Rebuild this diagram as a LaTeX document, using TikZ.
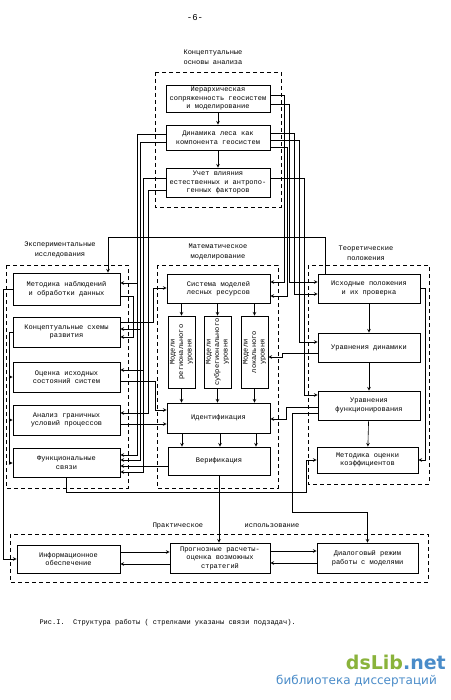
\documentclass[tikz,border=0pt]{standalone}
\usepackage{fontspec}
\newfontfamily\tw{Liberation Mono}
\newfontfamily\wm{DejaVu Sans}
\usetikzlibrary{arrows, calc}
\definecolor{wmgreen}{HTML}{8AB33B}
\definecolor{wmblue}{HTML}{4A8CC9}

\begin{document}
\begin{tikzpicture}[x=1pt, y=-1pt,
	block/.style={draw, line width=0.9pt, align=center, inner sep=1pt,
		minimum width=103pt, minimum height=29pt, font=\tw\fontsize{7}{8.5}\selectfont},
	vblock/.style={block, rotate=90, minimum width=72pt, minimum height=27pt},
	group/.style={line width=0.7pt, dash pattern=on 4pt off 3pt},
	lbl/.style={align=center, font=\tw\fontsize{7}{10}\selectfont},
	link/.style={line width=0.6pt, -stealth}]

\useasboundingbox[fill=white] (0,0) rectangle (450,700);

% frames of the groups
\draw[group] (155,72) rectangle (281,207);
\draw[group] (6,265) rectangle (128,488);
\draw[group] (157,265) rectangle (278,488);
\draw[group] (308,265) rectangle (429,484);
\draw[group] (10,534) rectangle (428,582);

\node[font=\tw\fontsize{9}{10}\selectfont] (pg) at (195,18) {-6-};
\node[lbl] (tconc) at (213,57) {Концептуальные\\основы анализа};
\node[lbl] (texp) at (60,250) {Экспериментальные\\исследования};
\node[lbl] (tmat) at (218,252) {Математическое\\моделирование};
\node[lbl] (tteor) at (366,253) {Теоретические\\положения};
\node[lbl] (tprak) at (178,526) {Практическое};
\node[lbl] (tisp) at (272,526) {использование};

% conceptual basis
\node[block, minimum width=104pt, minimum height=27pt] (T1) at (218,98.5) {Иерархическая\\сопряженность геосистем\\и моделирование};
\node[block, minimum width=104pt, minimum height=25pt] (T2) at (218,137.5) {Динамика леса как\\компонента геосистем};
\node[block, minimum width=104pt] (T3) at (218,182.5) {Учет влияния\\естественных и антропо-\\генных факторов};

% experiments
\node[block, minimum width=107pt, minimum height=32pt] (L1) at (66.5,289) {Методика наблюдений\\и обработки данных};
\node[block, minimum width=107pt, minimum height=30pt] (L2) at (66.5,332) {Концептуальные схемы\\развития};
\node[block, minimum width=107pt, minimum height=30pt] (L3) at (66.5,377) {Оценка исходных\\состояний систем};
\node[block, minimum width=107pt, minimum height=30pt] (L4) at (66.5,420) {Анализ граничных\\условий процессов};
\node[block, minimum width=107pt] (L5) at (66.5,462.5) {Функциональные\\связи};

% modelling
\node[block] (M1) at (218.5,288.5) {Система моделей\\лесных ресурсов};
\node[vblock] (V1) at (181.5,352) {Модели\\регионального\\уровня};
\node[vblock] (V2) at (217.5,352) {Модели\\субрегионального\\уровня};
\node[vblock] (V3) at (254.5,352) {Модели\\локального\\уровня};
\node[block, minimum height=30pt] (M2) at (218.5,418) {Идентификация};
\node[block, minimum width=102pt, minimum height=28pt] (M3) at (219,461) {Верификация};

% theory
\node[block, minimum width=102pt] (R1) at (369,288.5) {Исходные положения\\и их проверка};
\node[block, minimum width=102pt] (R2) at (369,347.5) {Уравнения динамики};
\node[block, minimum width=102pt] (R3) at (369,405.5) {Уравнения\\функционирования};
\node[block, minimum width=101pt, minimum height=26pt] (R4) at (367.5,460) {Методика оценки\\коэффициентов};

% practice
\node[block, minimum width=103pt, minimum height=28pt] (B1) at (68.5,559) {Информационное\\обеспечение};
\node[block, minimum width=100pt, minimum height=30pt] (B2) at (220,558) {Прогнозные расчеты-\\оценка возможных\\стратегий};
\node[block, minimum width=101pt, minimum height=30pt] (B3) at (367.5,558) {Диалоговый режим\\работы с моделями};

\node[anchor=west, font=\tw\fontsize{7}{8}\selectfont] (cap) at (36,623) {Рис.I.\ \ Структура работы ( стрелками указаны связи подзадач).};

\node[anchor=east, inner sep=0pt, font=\wm\bfseries\fontsize{19}{20}\selectfont] (wm1) at (446,662) {\textcolor{wmgreen}{dsLib}\textcolor{wmblue}{.net}};
\node[anchor=east, inner sep=0pt, text=wmblue, font=\wm\fontsize{12}{13}\selectfont] (wm2) at (437,681) {библиотека диссертаций};

% inside the groups
\draw[link] (T1) -- (T2);
\draw[link] (T2) -- (T3);
\foreach \v/\x in {V1/181.5, V2/217.5, V3/254.5} {
	\draw[link] (M1.south -| \x,0) -- (\v.east);
	\draw[link] (\v.west) -- (M2.north -| \x,0);
}
\foreach \x in {182, 220, 256}
	\draw[link] (M2.south -| \x,0) -- (M3.north -| \x,0);
\draw[link] (R1) -- (R2);
\draw[link] (R2) -- (R3);
\draw[link] (R3) -- (R4);
\draw[link] (R1.east) -- ++(5,0) |- (R4.east);

% from the conceptual basis to the right
\draw[link] (T1.east |- 0,95) -| (284,282) -- (M1.east |- 0,282);
\draw[link] (T1.east |- 0,104) -| (289,282) -- (R1.west |- 0,282);
\draw[link] (T2.east |- 0,133) -| (294,294) -- (R1.west |- 0,294);
\draw[link] (T2.east |- 0,140) -| (299,342) -- (R2.west |- 0,342);
\draw[link] (T2.east |- 0,147) -| (287,296) -- (M1.east |- 0,296);
\draw[link] (T3.east |- 0,178) -| (304,395) -- (R3.west |- 0,395);

% from the conceptual basis to the left
\draw[link] (T2.west |- 0,134) -| (137,455) -- (L5.east |- 0,455);
\draw[link] (T2.west |- 0,134) -| (137,283) -- (L1.east |- 0,283);
\draw[link] (T2.west |- 0,142) -| (140,460) -- (L5.east |- 0,460);
\draw[link] (T2.west |- 0,142) -| (140,329) -- (L2.east |- 0,329);
\draw[link] (T3.west |- 0,178) -| (143,472) -- (L5.east |- 0,472);
\draw[link] (T3.west |- 0,178) -| (143,370) -- (L3.east |- 0,370);
\draw[link] (T3.west |- 0,190) -| (148,413) -- (L4.east |- 0,413);

% experiments and modelling
\draw[link] (L1.east |- 0,296) -| (133,337) -- (L2.east |- 0,337);
\draw[link] (L2.east |- 0,322) -| (153,288) -- (M1.west |- 0,288);
\draw[link] (L3.east |- 0,381) -| (155,410) -- (M2.west |- 0,410);
\draw[link] (L4.east |- 0,424) -- (M2.west |- 0,424);
\draw[link] (M3.west |- 0,466) -- (L5.east |- 0,466);
\draw[link] (L2.west) -| (9,377) -- (L3.west |- 0,377);
\draw[link] (L2.west) -| (9,420) -- (L4.west |- 0,420);
\draw[link] (L2.west) -| (9,463) -- (L5.west |- 0,463);
\draw[link] (L1.west) -| (3,559) -- (B1.west);
\draw[link] (R1.north -| 325,0) |- (108,237) -- (L1.north -| 108,0);

% theory and modelling
\draw[link] (R3.west |- 0,407) -| (286,419) -- (M2.east |- 0,419);
\draw[link] (R2.west |- 0,353) -| (282,357) -- (V3.south |- 0,357);
\draw[link] (L5.south) -- ++(0,15) -| (306,460) -- (R4.west |- 0,460);

% practice
\draw[link] (M3.south) -- (M3.south |- B2.north);
\draw[link] (R3.west |- 0,413) -| (292,512) -| (B3.north);
\draw[link] (B1.east |- 0,552) -- (B2.west |- 0,552);
\draw[link] (B2.west |- 0,564) -- (B1.east |- 0,564);
\draw[link] (B2.east |- 0,551) -- (B3.west |- 0,551);
\draw[link] (B3.west |- 0,563) -- (B2.east |- 0,563);
\end{tikzpicture}
\end{document}
